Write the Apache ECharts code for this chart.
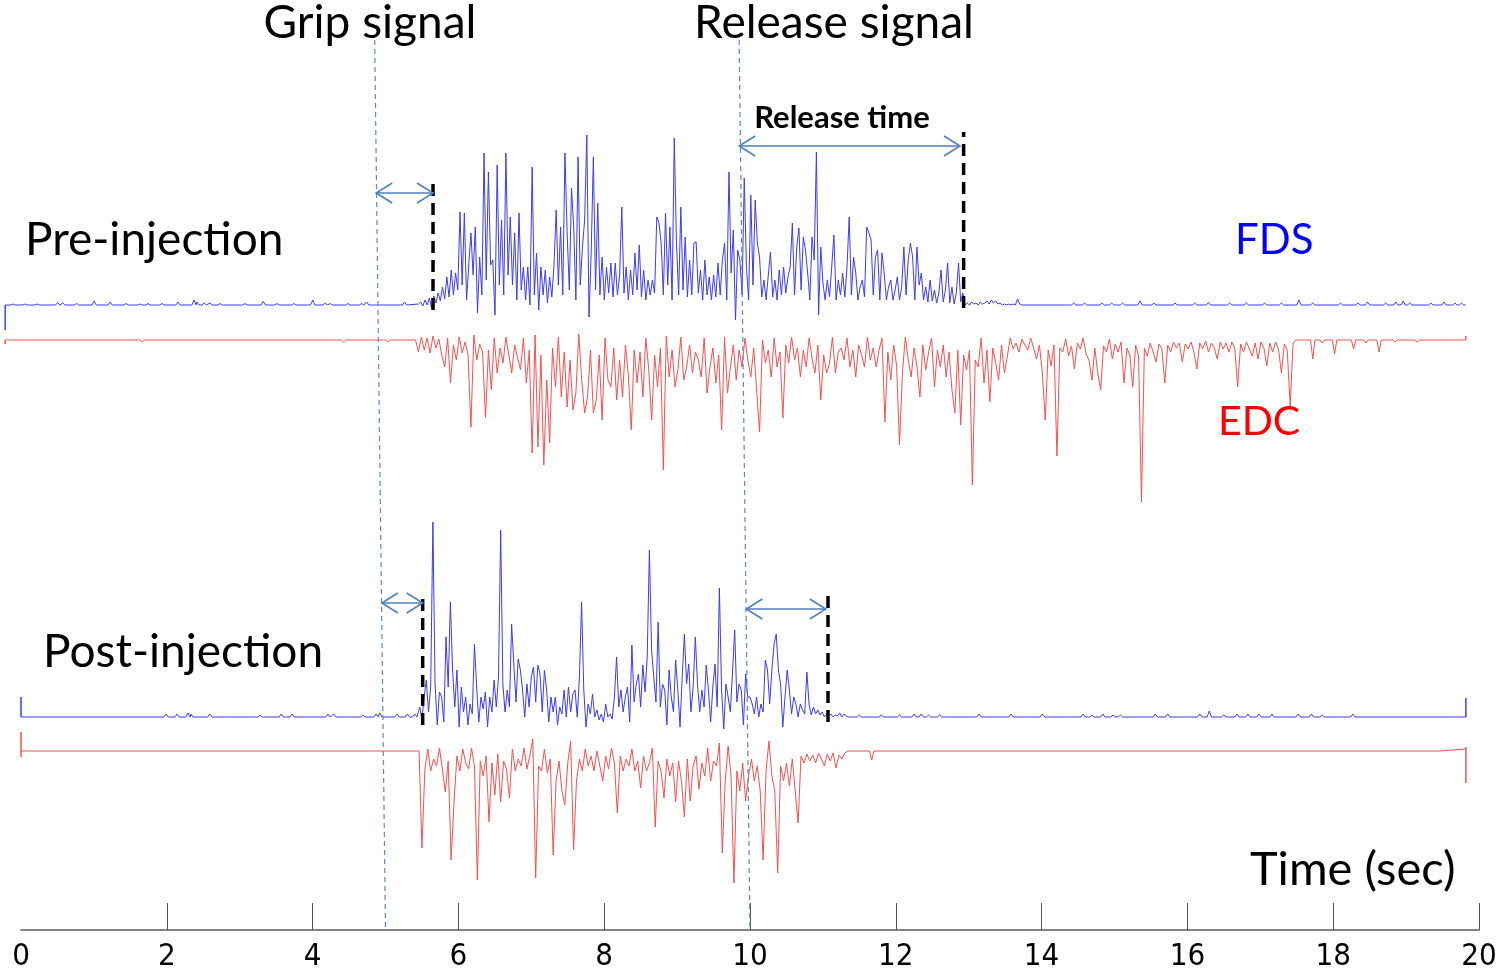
<!DOCTYPE html>
<html>
<head>
<meta charset="utf-8">
<script src="https://cdn.jsdelivr.net/npm/echarts@6/dist/echarts.min.js"></script>
<style>html,body{margin:0;padding:0;background:#fff}#c{width:1500px;height:976px}</style>
</head>
<body>
<div id="c"></div>
<script>
// ---------------- DATA ----------------
// time axis ticks (s)
const tickValues = [0, 2, 4, 6, 8, 10, 12, 14, 16, 18, 20];

// Trace extents [start, end] in seconds
const preFdsEnds = [-0.07, 19.97];
const preEdcEnds = [-0.07, 19.97];
const postFdsEnds = [0, 19.82];
const postEdcEnds = [0, 19.82];

// Vertical edge ticks at start / end of each trace (amplitude values visited)
const preFdsStartTick = [-25];
const preEdcStartTick = [-4];
const preEdcEndTick = [4];
const postFdsStartTick = [20];
const postFdsEndTick = [19];
const postEdcStartTick = [19, -6];
const postEdcEndTick = [-32, 4];

// Small isolated baseline blips [time, amplitude]
const preFdsBlips = [[0.04,1],[0.20,1],[0.37,1],[0.65,2.5],[0.72,2],[0.91,1.5],[1.15,4],[1.37,3],[1.59,1.5],[1.78,1],[1.89,1.5],[2.08,1.5],[2.30,3],[2.52,5],[2.56,3],[2.66,2],[2.74,2],[2.88,1.5],[3.22,1.5],[3.47,3.5],[3.52,2],[3.66,1.5],[3.89,1.5],[4.15,5],[4.32,2],[4.39,1.5],[4.63,1.5],[4.82,1.5],[4.89,3],[5.41,3],
  [14.59,2],[14.74,2],[14.98,2],[15.11,2],[15.26,2],[15.50,4],[15.69,2],[15.98,2],[16.25,2],[16.44,2.5],[16.73,2],[16.96,2],[17.21,2],[17.44,2],[17.68,5],[17.87,2],[18.25,2],[18.49,2],[18.62,3],[18.87,2],[19.01,3],[19.11,4],[19.20,2],[19.49,2],[19.67,3],[19.82,2],[19.91,2]];
const preEdcBlips = [[1.81,-2],[4.57,-2],[5.18,-2],[17.87,-19],[18.00,-3],[18.17,-14],[18.43,-9],[18.60,-3],[18.78,-12],[19.00,-2],[19.30,-2]];
const postFdsBlips = [[1.99,3],[2.14,3],[2.29,4],[2.33,3],[2.59,3],[3.28,2],[3.57,3],[3.72,3],[4.21,3],[4.29,3],[4.69,2],[4.87,3],[4.92,4],[5.16,3],[5.30,3],[5.40,3],
  [11.50,2],[11.80,2],[12.05,2],[12.25,3],[12.35,3],[12.45,2],[12.60,2],[13.14,3],[13.58,3],[14.01,3],[14.57,3],[14.69,2],[14.84,3],[14.98,2],[15.08,2],[15.56,3],[15.73,3],[16.17,3],[16.30,6],[16.50,2],[16.68,3],[16.83,3],[16.98,3],[17.16,3],[17.52,3],[17.70,3],[17.85,2],[18.27,3]];
const postEdcBlips = [[11.67,-9]];
// small level step near the end of post-injection EDC [time, level]
const postEdcStep = [[19.46, 0], [19.47, 2], [19.82, 2]];

// Burst segments: start time, sampling step, amplitudes
const preFdsBurstStart = 5.60, preFdsBurstStep = 0.03;
const preFdsBurst = [1,3,-1,5,0,7,-3,9,2,12, 4,18,6,28,8,35,10,32,15,93, 20,92,5,40,72,30,78,-8,48,10,
 152,25,133,40,45,-10,140,20,85,10, 152,30,88,20,72,5,92,15,38,5, 38,0,138,10,52,-5,38,10,35,2,
 28,8,40,95,20,78,10,152,72,15, 117,78,5,148,20,58,85,170,-12,52, 148,15,102,10,48,5,38,12,42,8,
 42,10,30,98,12,38,5,35,10,52, 15,60,8,35,5,25,10,25,12,88, 82,62,10,92,20,78,5,167,62,10,
 98,15,68,8,45,10,62,63,12,35, 5,45,10,28,5,30,8,42,10,45, 62,5,133,32,75,-15,55,45,10,127,
 38,5,110,20,105,62,48,8,25,5, 30,53,8,25,5,35,10,38,12,28, 38,82,10,58,77,15,68,55,32,5,
 68,45,153,-10,58,22,5,25,8,38, 70,5,25,10,32,8,38,88,10,48, 32,5,18,25,8,78,72,65,10,48,
 55,5,52,32,5,18,25,5,15,28, 5,18,58,10,45,62,48,5,58,20, 32,5,18,3,25,4,15,2,12,35,
 3,15,42,2,18,1,12,42,3,12, 0,2,0,3,1,2,0,3,1,2, 4,1,5,2,4,1,2,0,1,0, 1,0,1,0,6,1,0];

const preEdcBurstStart = 5.56, preEdcBurstStep = 0.04;
const preEdcBurst = [0,-12,3,-10,2,-13,4,-8,1,-15, -27,2,-43,-5,-20,3,-13,-2,-15,-87, 5,-20,-4,-12,-78,-10,-50,2,-33,-8,
 -23,3,-15,-33,-5,-18,-30,2,-43,-10, -113,5,-107,-15,-125,-40,-103,-8,-47,3, -57,-12,-67,-20,-70,-53,6,-40,-73,-57,
 -10,-73,-60,-15,-80,2,-40,-47,-8,-60, -20,-57,-5,-35,-90,-10,-43,-12,-57,2, -30,-80,-15,-47,-8,-130,4,-37,-10,-47,
 -30,3,-40,-27,-5,-33,-12,-20,-37,2, -53,-27,-8,-43,-15,-90,3,-53,-27,-5, -40,-10,-27,2,-20,-37,-8,-50,-92,0,
 -23,-10,-37,2,-27,-12,-78,-5,-23,3, -20,-8,-37,-10,-27,2,-18,-33,-5,-60, -15,-33,-23,3,-33,-12,-8,-20,2,-27,
 -10,-37,-5,-15,-27,3,-20,-8,-27,-10, 2,-82,-12,-40,-5,-25,-105,-33,3,-20, -37,-8,-27,-57,-5,-30,-12,2,-47,-10,
 -27,-5,-37,-12,-50,-73,-10,-85,-15,-30, -10,-145,-20,-27,2,-43,-10,-62,-8,-23, -40,-5,-33,-16,2,-9,-3,-12,1,-5,
 -10,2,-8,-19,-5,-33,-80,-10,-26,-5, -116,-8,-12,1,-16,-6,-29,-3,-9,2, -14,-20,-40,-8,-33,-50,-6,-12,1,-19,
 -4,-12,-2,-43,-8,-15,-47,-5,-16,-162, -8,-16,-3,-12,-22,-4,-9,-43,-5,-12, -2,-8,-3,-22,-4,-9,-2,-12,-29,-3,
 -9,-1,-12,-3,-8,-19,-2,-9,-3,-12, -2,-8,-47,-4,-12,-2,-9,-16,-3,-19, -2,-8,-26,-3,-12,-2,-9,-33,-4,-10, -66,-3,0];

const postFdsBurstStart = 5.44, postFdsBurstStep = 0.03;
const postFdsBurst = [0,10,-3,20,37,5,30,195,33,-8, 25,20,-5,80,30,115,47,10,47,-10, 30,5,20,-8,13,3,73,30,-5,20,
 8,25,-10,20,5,37,10,40,187,33, 5,27,10,93,53,15,58,47,27,0, 33,10,40,50,15,52,43,5,47,27,
 -5,20,5,20,-8,10,3,27,0,30, 5,23,27,0,40,115,27,-10,13,3, 23,0,7,-3,3,-5,13,0,3,-2,
 20,60,10,27,5,20,30,-5,72,15, 33,43,10,52,25,60,167,67,40,15, 95,10,33,27,-8,47,20,5,57,27,
 -10,40,83,33,53,5,30,80,33,5, 27,10,52,27,-5,30,53,10,129,27, -12,33,20,5,45,87,15,33,27,-8,
 43,20,20,13,3,20,0,13,5,57, 47,13,47,73,83,47,33,-10,20,47, 27,3,20,13,0,13,7,3,45,13,
 2,10,3,7,2,5,0,3,1,3, 0,2,1,4,0,3,1,0];

const postEdcBurstStart = 5.46, postEdcBurstStep = 0.04;
const postEdcBurst = [0,-97,-18,2,-20,-8,-15,3,-18,-41, -10,-109,-51,-5,-20,2,-12,-18,3,-15, -129,-10,-25,-5,-71,-12,-44,-3,-51,-10,
 -18,-47,2,-20,-8,-15,3,-18,-5,12, -127,-15,-20,2,-22,-8,-104,-30,-10,-40, -54,-12,10,-99,-30,-8,-20,2,-15,-5,
 -20,0,-15,-30,-5,-18,3,-12,-62,-5, -20,-8,-15,2,-20,-10,-37,-5,-20,-12, 3,-76,-10,-20,-47,-8,-25,-12,-51,-10,
 -30,-66,-8,-50,-15,-5,-38,-12,-25,3, -30,-10,-15,8,-102,-30,5,-25,-132,-20, -40,-12,-50,-25,-8,-30,-15,-40,-109,-20,
 10,-25,-40,-122,-15,-30,-12,-35,-8,-40, -72,-5,-12,-3,-10,-4,-12,-2,-8,-15, -3,-10,-2,-17,-4,-8,-2,0];

// Annotations (seconds / amplitude units)
const signalTimes = [5, 10];                 // grip signal, release signal
const preMarkerTimes = [5.80, 13.08];        // black dashed markers, pre-injection
const preMarkerSpan = [[-5, 123], [-3, 173]];
const postMarkerTimes = [5.51, 11.07];       // black dashed markers, post-injection
const postMarkerSpan = [[-8, 120], [-5, 124]];
const preArrows = [[5.02, 5.80, 112], [10.0, 13.03, 159]];   // [from, to, level]
const postArrows = [[4.95, 5.51, 114], [9.95, 11.04, 108]];

// ---------------- BUILD ----------------
function buildTrace(ends, startTick, endTick, blips, t0, dt, burst, tail) {
  const pts = [[ends[0], 0]];
  startTick.forEach(v => pts.push([ends[0], v]));
  if (startTick.length) pts.push([ends[0], 0]);
  const tb = t0 + dt * (burst.length - 1);
  blips.filter(b => b[0] < t0).forEach(([t, h]) => pts.push([t - 0.03, 0], [t, h], [t + 0.03, 0]));
  burst.forEach((v, i) => pts.push([+(t0 + dt * i).toFixed(3), v]));
  blips.filter(b => b[0] > tb).forEach(([t, h]) => pts.push([t - 0.03, 0], [t, h], [t + 0.03, 0]));
  let last = 0;
  if (tail) { tail.forEach(p => pts.push(p)); last = tail[tail.length - 1][1]; }
  else pts.push([ends[1], 0]);
  endTick.forEach(v => pts.push([ends[1], v]));
  if (endTick.length) pts.push([ends[1], last]);
  return pts;
}

const preFds = buildTrace(preFdsEnds, preFdsStartTick, [], preFdsBlips, preFdsBurstStart, preFdsBurstStep, preFdsBurst);
const preEdc = buildTrace(preEdcEnds, preEdcStartTick, preEdcEndTick, preEdcBlips, preEdcBurstStart, preEdcBurstStep, preEdcBurst);
const postFds = buildTrace(postFdsEnds, postFdsStartTick, postFdsEndTick, postFdsBlips, postFdsBurstStart, postFdsBurstStep, postFdsBurst);
const postEdc = buildTrace(postEdcEnds, postEdcStartTick, postEdcEndTick, postEdcBlips, postEdcBurstStart, postEdcBurstStep, postEdcBurst, postEdcStep);

const FDS_COLOR = '#3c3cf0', EDC_COLOR = '#f55050';
const chart = echarts.init(document.getElementById('c'));

const grids = [
  {left: 21, right: 21, top: 900, height: 30},    // time axis
  {left: 3, right: 32, top: 105, height: 230},    // pre FDS
  {left: 3, right: 32, top: 310, height: 200},    // pre EDC
  {left: 21, right: 21, top: 517, height: 230},   // post FDS
  {left: 21, right: 21, top: 721, height: 200}    // post EDC
];
const hiddenX = (g, min, max) => ({gridIndex: g, type: 'value', min, max, show: false});
const hiddenY = (g, min, max) => ({gridIndex: g, type: 'value', min, max, show: false});

const numFont = "'Liberation Sans Narrow', 'DejaVu Sans Condensed', 'Liberation Sans', sans-serif";

chart.setOption({
  animation: false,
  backgroundColor: '#fff',
  grid: grids,
  xAxis: [
    {gridIndex: 0, type: 'value', min: 0, max: 20, interval: 2,
     axisLine: {show: true, onZero: false, lineStyle: {color: '#858585', width: 2}},
     axisTick: {show: true, inside: true, length: 27, lineStyle: {color: '#555', width: 1}, customValues: tickValues.slice(1)},
     axisLabel: {show: true, margin: 11, fontSize: 31, fontFamily: numFont, color: '#000', customValues: tickValues, formatter: v => String(v)},
     splitLine: {show: false}},
    hiddenX(1, -0.1, 20), hiddenX(2, -0.1, 20), hiddenX(3, 0, 20), hiddenX(4, 0, 20)
  ],
  yAxis: [hiddenY(0, 0, 1), hiddenY(1, -30, 200), hiddenY(2, -170, 30), hiddenY(3, -30, 200), hiddenY(4, -170, 30)],
  series: [
    {name: 'Pre FDS', data: preFds, xAxisIndex: 1, yAxisIndex: 1, color: FDS_COLOR},
    {name: 'Pre EDC', data: preEdc, xAxisIndex: 2, yAxisIndex: 2, color: EDC_COLOR},
    {name: 'Post FDS', data: postFds, xAxisIndex: 3, yAxisIndex: 3, color: FDS_COLOR},
    {name: 'Post EDC', data: postEdc, xAxisIndex: 4, yAxisIndex: 4, color: EDC_COLOR}
  ].map(s => Object.assign({type: 'line', showSymbol: false, symbol: 'none', clip: false,
      lineStyle: {width: 1, color: s.color}, silent: true}, s))
});

// ---------------- ANNOTATIONS ----------------
const P = (g, t, v) => chart.convertToPixel({gridIndex: g}, [t, v]);
const gfx = [];
const BLUE = '#4f81bd';
// slanted dashed signal lines: from pre-injection frame (top) to time axis (bottom)
signalTimes.forEach(t => {
  const top = P(1, t, 0), bot = P(0, t, 0);
  gfx.push({type: 'line', shape: {x1: top[0], y1: 40, x2: bot[0], y2: 930},
    style: {stroke: '#5a8ac6', lineWidth: 1.2, lineDash: [5, 4]}, z: 5});
});
function marker(g, t, span) {
  const a = P(g, t, span[0]), b = P(g, t, span[1]);
  gfx.push({type: 'line', shape: {x1: a[0], y1: a[1], x2: b[0], y2: b[1]},
    style: {stroke: '#000', lineWidth: 3.5, lineDash: [12, 7]}, z: 6});
}
preMarkerTimes.forEach((t, i) => marker(1, t, preMarkerSpan[i]));
postMarkerTimes.forEach((t, i) => marker(3, t, postMarkerSpan[i]));
function arrow(g, a) {
  const p1 = P(g, a[0], a[2]), p2 = P(g, a[1], a[2]);
  const y = p1[1];
  gfx.push({type: 'line', shape: {x1: p1[0], y1: y, x2: p2[0], y2: y}, style: {stroke: BLUE, lineWidth: 1.6}, z: 6});
  gfx.push({type: 'polyline', shape: {points: [[p1[0] + 16, y - 10], [p1[0], y], [p1[0] + 16, y + 10]]}, style: {stroke: BLUE, lineWidth: 1.6, fill: null}, z: 6});
  gfx.push({type: 'polyline', shape: {points: [[p2[0] - 16, y - 10], [p2[0], y], [p2[0] - 16, y + 10]]}, style: {stroke: BLUE, lineWidth: 1.6, fill: null}, z: 6});
}
preArrows.forEach(a => arrow(1, a));
postArrows.forEach(a => arrow(3, a));

const FONT = "Lato, 'Open Sans', sans-serif";
const T = (text, x, y, opts) => gfx.push({type: 'text', x, y, z: 10,
  style: Object.assign({text, font: '46px ' + FONT, fill: '#000', align: 'left', verticalAlign: 'middle'}, opts || {})});
T('Grip signal', 370, 23, {align: 'center'});
T('Release signal', 834, 23, {align: 'center'});
T('Release time', 842, 118, {align: 'center', font: 'bold 31px ' + FONT});
T('Pre-injection', 25, 240);
T('FDS', 1235, 240, {fill: '#0000ff', font: '42px ' + FONT});
T('EDC', 1218, 422, {fill: '#ff0000', font: '41px ' + FONT});
T('Post-injection', 43, 652);
T('Time (sec)', 1250, 870, {font: '47px ' + FONT});

chart.setOption({graphic: gfx});
</script>
</body>
</html>
